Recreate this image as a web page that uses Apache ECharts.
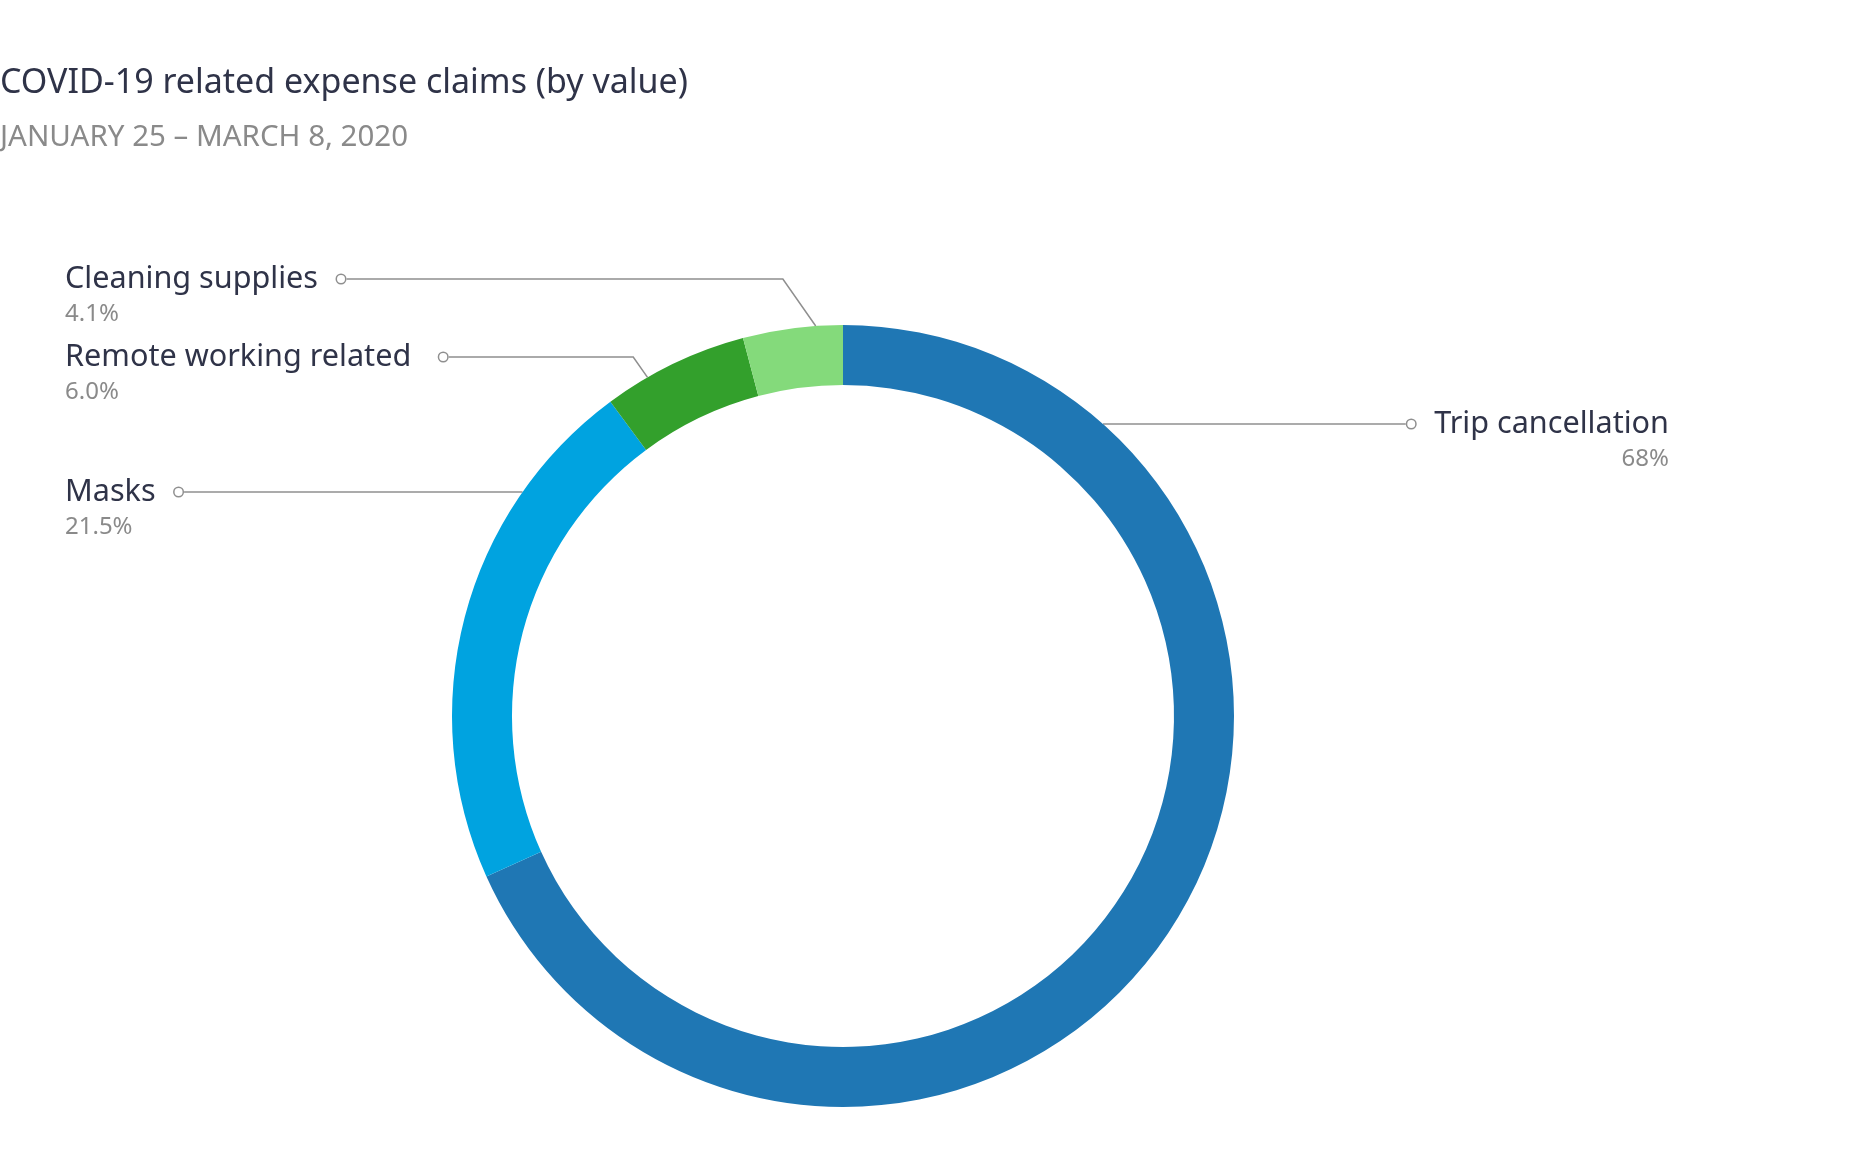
<!DOCTYPE html>
<html>
<head>
<meta charset="utf-8">
<script src="https://cdn.jsdelivr.net/npm/echarts@6/dist/echarts.min.js"></script>
<style>
  html, body { margin: 0; padding: 0; background: #ffffff; }
  #chart { width: 1874px; height: 1164px; }
</style>
</head>
<body>
<div id="chart"></div>
<script>
// ---- data ----
const categories = ['Trip cancellation', 'Masks', 'Remote working related', 'Cleaning supplies'];
const shares = [68, 21.5, 6.0, 4.1];          // percent of claims by value
const shareDecimals = [0, 1, 1, 1];           // decimals shown in the labels
const sliceColors = ['#1f77b4', '#00a3e0', '#33a02c', '#84da7b'];

// ---- layout (pixels) ----
const CX = 843, CY = 716, R_IN = 331, R_OUT = 391;
const LEFT_X = 65, RIGHT_X = 1669;
const NAME_LH = 40, PCT_LH = 30;
const FONT = '"Noto Sans"';
// label placement per slice: side, y of the leader line, gap text->marker,
// anchor angle on the ring (deg from 12 o'clock, clockwise) or null for a horizontal leader
const labelPlacement = [
  { side: 'right', lineY: 424, gap: 19, anchorDeg: null },
  { side: 'left',  lineY: 492, gap: 19, anchorDeg: null },
  { side: 'left',  lineY: 357, gap: 28, anchorDeg: -30 },
  { side: 'left',  lineY: 279, gap: 19, anchorDeg: -4 }
];

const chart = echarts.init(document.getElementById('chart'), null, { renderer: 'canvas' });

const dotStyle = { width: 8, height: 8, borderRadius: 5, borderColor: '#8f8f8f', borderWidth: 1.5, backgroundColor: '#ffffff' };

const option = {
  backgroundColor: '#ffffff',
  animation: false,
  title: {
    text: 'COVID-19 related expense claims (by value)',
    subtext: 'JANUARY 25 \u2013 MARCH 8, 2020',
    left: 0,
    top: 66,
    padding: 0,
    itemGap: 23,
    textStyle: { fontFamily: FONT, fontWeight: 'normal', fontSize: 34, color: '#2f3348' },
    subtextStyle: { fontFamily: FONT, fontWeight: 'normal', fontSize: 29.5, color: '#8a8a8a' }
  },
  series: [{
    type: 'pie',
    center: [CX, CY],
    radius: [R_IN, R_OUT],
    startAngle: 90,
    clockwise: true,
    avoidLabelOverlap: false,
    silent: true,
    data: categories.map((c, i) => ({
      name: c,
      value: shares[i],
      itemStyle: { color: sliceColors[i] },
      label: { rich: { gap: { width: labelPlacement[i].gap, height: 8 } } }
    })),
    label: {
      show: true,
      position: 'outer',
      formatter: function (p) {
        const pct = shares[p.dataIndex].toFixed(shareDecimals[p.dataIndex]) + '%';
        if (labelPlacement[p.dataIndex].side === 'left') {
          return '{name|' + p.name + '}{gap|}{dot|}\n{pct|' + pct + '}';
        }
        return '{dot|}{gap|}{name|' + p.name + '}\n{pct|' + pct + '}';
      },
      rich: {
        name: { fontFamily: FONT, fontSize: 30.6, color: '#2f3348', lineHeight: NAME_LH },
        pct: { fontFamily: FONT, fontSize: 24, color: '#8a8a8a', lineHeight: PCT_LH },
        gap: { width: 19, height: 8 },
        dot: dotStyle
      }
    },
    labelLine: {
      show: true,
      lineStyle: { color: '#8f8f8f', width: 1.5 }
    },
    labelLayout: function (p) {
      const cfg = labelPlacement[p.dataIndex];
      const w = p.labelRect.width;
      const isLeft = cfg.side === 'left';
      const x = isLeft ? LEFT_X : RIGHT_X;
      const start = [isLeft ? x + w : x - w, cfg.lineY];
      let pts;
      if (cfg.anchorDeg == null) {
        const dy = cfg.lineY - CY;
        const dx = Math.sqrt(R_OUT * R_OUT - dy * dy) * (isLeft ? -1 : 1);
        pts = [start, [CX + dx, cfg.lineY]];
      } else {
        const a = cfg.anchorDeg * Math.PI / 180;
        const ax = CX + R_OUT * Math.sin(a), ay = CY - R_OUT * Math.cos(a);
        pts = [start, [ax - (ay - cfg.lineY) * 0.7, cfg.lineY], [ax, ay]];
      }
      return { x: x, y: cfg.lineY - NAME_LH / 2, align: cfg.side, verticalAlign: 'top', labelLinePoints: pts };
    }
  }]
};
chart.setOption(option);
</script>
</body>
</html>
